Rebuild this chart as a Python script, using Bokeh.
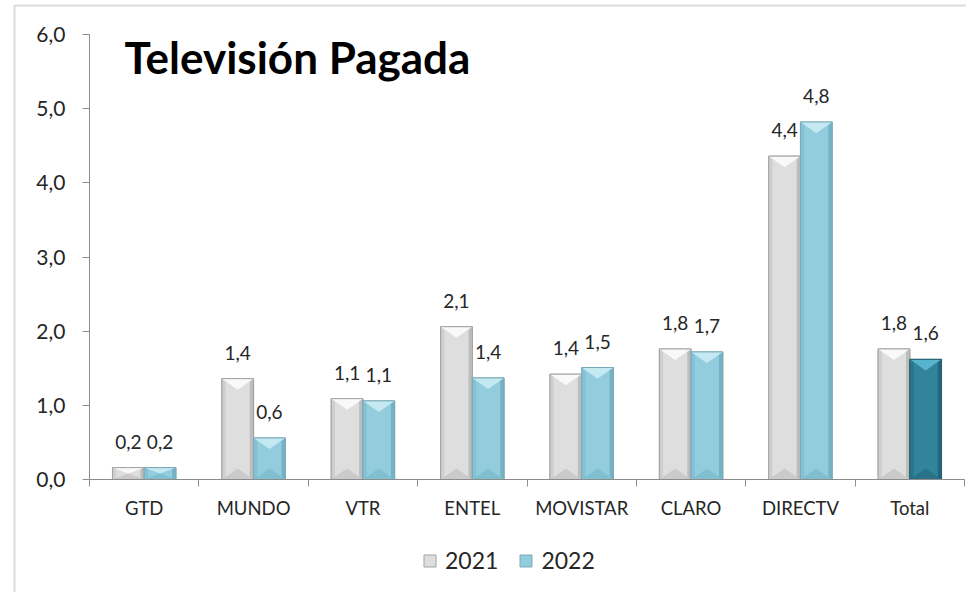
from bokeh.plotting import figure
from bokeh.models import (Range1d, FixedTicker, CustomJSTickFormatter, Label,
                          Legend, LegendItem, ColumnDataSource, BoxAnnotation)
from bokeh.embed import file_html
from bokeh.resources import INLINE

# ---- data ----
categories = ["GTD", "MUNDO", "VTR", "ENTEL", "MOVISTAR", "CLARO", "DIRECTV", "Total"]
values_2021 = [0.16, 1.36, 1.09, 2.06, 1.42, 1.76, 4.36, 1.76]
values_2022 = [0.16, 0.56, 1.06, 1.37, 1.51, 1.72, 4.82, 1.62]
series_names = ["2021", "2022"]
y_ticks = [0, 1, 2, 3, 4, 5, 6]
Y_MAX = 6

# ---- layout (pixels on the canvas) ----
W, H = 966, 592
AX_LEFT, AX_RIGHT, AX_TOP, AX_BOTTOM = 89, 964, 34, 479
n = len(categories)
sx = (AX_RIGHT - AX_LEFT) / n
sy = (AX_BOTTOM - AX_TOP) / Y_MAX
x_range = Range1d(-AX_LEFT / sx, n + (W - AX_RIGHT) / sx)
y_range = Range1d(-(H - AX_BOTTOM) / sy, Y_MAX + AX_TOP / sy)

# ---- style ----
FONT = "Lato"
BAR_W = 0.29
GRAY = dict(mid="#dedede", edge="#bdbdbd", edge2="#cfcfcf", top="#f9f9f9", bot="#cacaca", line="#a3a3a3")
BLUE = dict(mid="#93cddd", edge="#74b3c5", edge2="#84c1d2", top="#c4e9f3", bot="#80bfd0", line="#7aaab8")
DARK = dict(mid="#31849b", edge="#23657a", edge2="#2a758b", top="#58b4cc", bot="#2a7287", line="#235f70")

p = figure(width=W, height=H, output_backend="svg", toolbar_location=None,
           x_range=x_range, y_range=y_range)
p.min_border = 0
p.min_border_left = 0
p.min_border_right = 0
p.min_border_top = 0
p.min_border_bottom = 0
p.background_fill_color = "white"
p.border_fill_color = "white"
p.outline_line_color = None
p.xgrid.visible = False
p.ygrid.visible = False

# y axis
p.yaxis.fixed_location = 0
p.yaxis.bounds = (0, Y_MAX)
p.yaxis.ticker = FixedTicker(ticks=y_ticks)
p.yaxis.formatter = CustomJSTickFormatter(code="return tick.toFixed(1).replace('.', ',');")
p.yaxis.axis_line_color = "#8c8c8c"
p.yaxis.major_tick_line_color = "#8c8c8c"
p.yaxis.major_tick_out = 7
p.yaxis.major_tick_in = 0
p.yaxis.minor_tick_line_color = None
p.yaxis.major_label_text_font = FONT
p.yaxis.major_label_text_font_size = "21px"
p.yaxis.major_label_text_color = "#262626"
p.yaxis.major_label_standoff = 17

# x axis
centers = [i + 0.5 for i in range(n)]
bounds = list(range(n + 1))
p.xaxis.fixed_location = 0
p.xaxis.bounds = (0, n)
p.xaxis.ticker = FixedTicker(ticks=centers, minor_ticks=bounds)
p.xaxis.formatter = CustomJSTickFormatter(args=dict(cats=categories),
                                          code="return cats[Math.floor(tick)];")
p.xaxis.axis_line_color = "#8c8c8c"
p.xaxis.major_tick_line_color = None
p.xaxis.minor_tick_line_color = "#8c8c8c"
p.xaxis.minor_tick_out = 7
p.xaxis.minor_tick_in = 0
p.xaxis.major_label_text_font = FONT
p.xaxis.major_label_text_font_size = "18.5px"
p.xaxis.major_label_text_color = "#262626"
p.xaxis.major_label_standoff = 10


def draw_series(vals, offset, styles):
    xs_c = [c + offset for c in centers]
    base = p.vbar(x=xs_c, top=vals, width=BAR_W, bottom=0,
                  fill_color=[s["mid"] for s in styles],
                  line_color=[s["line"] for s in styles], line_width=1)
    sw = BAR_W * 0.12
    left_x = [x - BAR_W / 2 + sw / 2 for x in xs_c]
    right_x = [x + BAR_W / 2 - sw / 2 for x in xs_c]
    p.vbar(x=left_x, top=vals, width=sw, fill_color=[s["edge2"] for s in styles], line_color=None)
    p.vbar(x=right_x, top=vals, width=sw, fill_color=[s["edge"] for s in styles], line_color=None)
    txs, tys, bxs, bys = [], [], [], []
    for x, v in zip(xs_c, vals):
        d = min(0.15, v * 0.5)
        l, r = x - BAR_W / 2, x + BAR_W / 2
        txs.append([l, r, x])
        tys.append([v, v, v - d])
        bxs.append([l, r, x])
        bys.append([0, 0, d])
    p.patches(xs=txs, ys=tys, fill_color=[s["top"] for s in styles], line_color=None)
    p.patches(xs=bxs, ys=bys, fill_color=[s["bot"] for s in styles], line_color=None)
    p.vbar(x=xs_c, top=vals, width=BAR_W, bottom=0, fill_alpha=0,
           line_color=[s["line"] for s in styles], line_width=1)
    src = ColumnDataSource(dict(x=xs_c, y=vals,
                                t=[f"{v:.1f}".replace(".", ",") for v in vals]))
    p.text(x="x", y="y", text="t", source=src, text_align="center",
           text_baseline="middle", y_offset=-26, text_font_size="19px",
           text_color="#262626", text_font={"value": FONT})
    return base


styles_2021 = [GRAY] * n
styles_2022 = [BLUE] * (n - 1) + [DARK]
r1 = draw_series(values_2021, -BAR_W / 2, styles_2021)
r2 = draw_series(values_2022, BAR_W / 2, styles_2022)

# legend proxies (rect icons), placed outside the visible range
l1 = p.vbar(x=[-20], top=[-20], bottom=[-21], width=0.1, fill_color=GRAY["mid"], line_color=GRAY["line"])
l2 = p.vbar(x=[-20], top=[-20], bottom=[-21], width=0.1, fill_color=BLUE["mid"], line_color=BLUE["line"])
legend = Legend(items=[LegendItem(label=series_names[0], renderers=[l1]),
                       LegendItem(label=series_names[1], renderers=[l2])],
                orientation="horizontal", location=(422, 18),
                label_text_font=FONT, label_text_font_size="23px",
                label_text_color="#262626", glyph_width=15, glyph_height=15,
                label_standoff=8, spacing=20, padding=4, margin=0,
                border_line_color=None, background_fill_alpha=0)
p.add_layout(legend, "center")

p.add_layout(Label(x=0.32, y=5.70, text="Televisión Pagada", text_font=FONT,
                   text_font_size="44px", text_font_style="bold",
                   text_color="black", text_baseline="alphabetic"))

# outer chart-area frame
p.add_layout(BoxAnnotation(left=14, right=W + 10, top=5, bottom=H + 10,
                           left_units="canvas", right_units="canvas",
                           top_units="canvas", bottom_units="canvas",
                           fill_alpha=0, line_color="#8c8c8c", line_width=2))

open("out.html", "w").write(file_html(p, INLINE))
